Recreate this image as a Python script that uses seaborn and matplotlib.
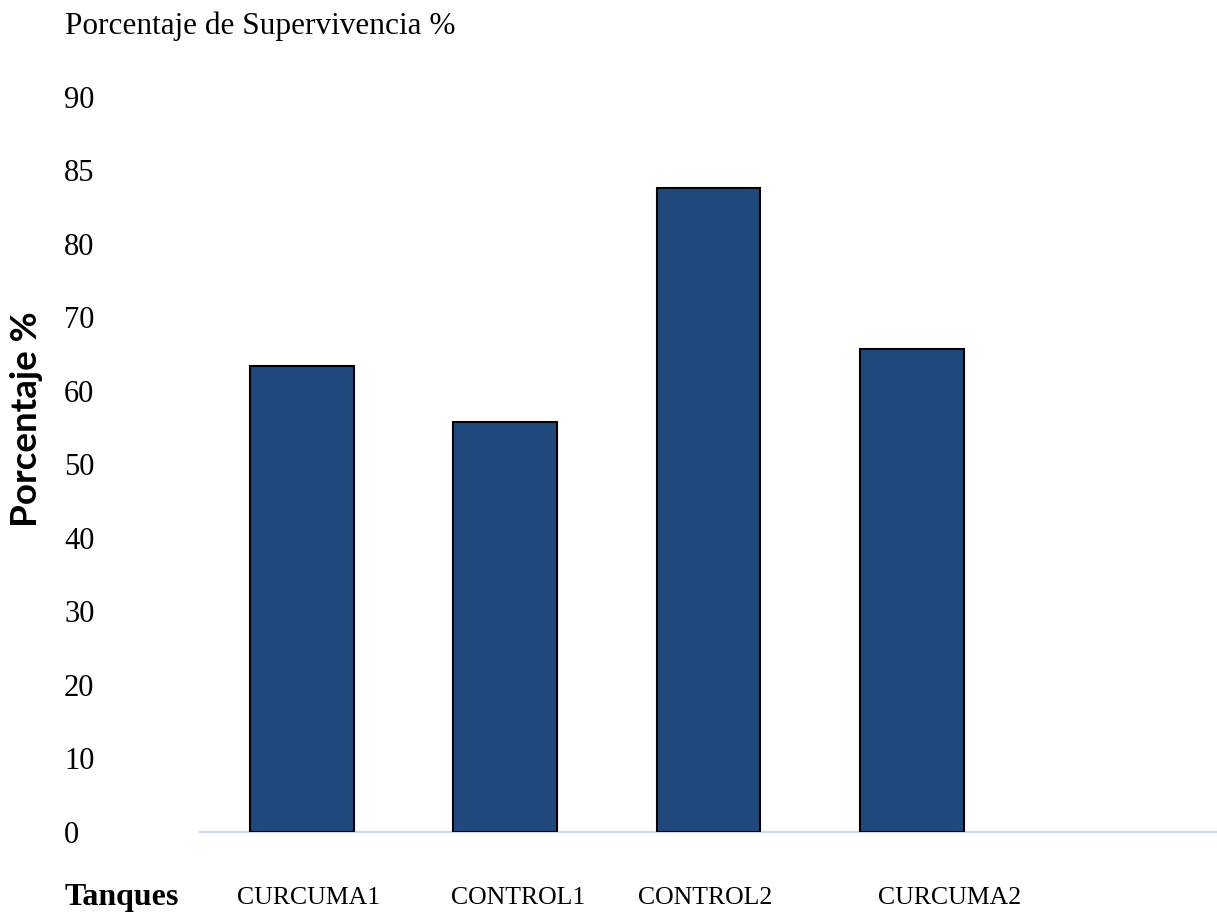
import matplotlib
matplotlib.use("Agg")
import matplotlib.pyplot as plt
import matplotlib.transforms as mtransforms
import seaborn as sns
import pandas as pd

# Survival percentage per tank
tanques = ["CURCUMA1", "CONTROL1", "CONTROL2", "CURCUMA2"]
supervivencia = [63.3, 55.8, 87.6, 65.7]

# Y-axis tick labels as printed on the original chart
ytick_pos = [0, 10, 20, 30, 40, 50, 60, 70, 80, 90, 100]
ytick_labels = ["0", "10", "20", "30", "40", "50", "60", "70", "80", "85", "90"]

# Horizontal nudges (px) of the category labels
label_shift_px = [7, 13, -3, 38]

sns.set_style("white")
plt.rcParams["font.family"] = ["Liberation Serif", "DejaVu Serif"]
plt.rcParams["text.color"] = "black"
plt.rcParams["xtick.color"] = "black"
plt.rcParams["ytick.color"] = "black"
plt.rcParams["xtick.labelcolor"] = "black"
plt.rcParams["ytick.labelcolor"] = "black"

df = pd.DataFrame({"Tanque": tanques, "Porcentaje": supervivencia})

W, H = 1217, 923
fig = plt.figure(figsize=(W / 100, H / 100), dpi=100)
ax = fig.add_axes([200 / W, (H - 832) / H, 1017 / W, (832 - 96.5) / H])

sns.barplot(data=df, x="Tanque", y="Porcentaje", order=tanques,
            color="#1F497D", saturation=1, width=0.51,
            edgecolor="black", linewidth=1.5, ax=ax, zorder=3)

ax.set_xlim(-0.5, 4.5)
ax.set_ylim(0, 100)
ax.set_xlabel("")
ax.set_ylabel("")

for side in ("top", "right", "left"):
    ax.spines[side].set_visible(False)
ax.spines["bottom"].set_color("#CCDAF0")
ax.spines["bottom"].set_linewidth(1.6)
ax.spines["bottom"].set_zorder(1)

# Y tick labels, left aligned far from the plot area
ax.set_yticks(ytick_pos)
ax.set_yticklabels(ytick_labels, fontsize=22, color="black")
ax.tick_params(axis="y", length=0, pad=(200 - 64) * 0.72)
for lab in ax.get_yticklabels():
    lab.set_horizontalalignment("left")

# Category labels
ax.set_xticks(range(len(tanques)))
ax.set_xticklabels(tanques, fontsize=18.5, color="black")
ax.tick_params(axis="x", length=0, pad=66 * 0.72)
for lab, dx in zip(ax.get_xticklabels(), label_shift_px):
    lab.set_verticalalignment("center")
    lab.set_transform(lab.get_transform() +
                      mtransforms.ScaledTranslation(dx / 100, 0, fig.dpi_scale_trans))

fig.text(65 / W, 1 - 26 / H, "Porcentaje de Supervivencia %",
         fontsize=22.5, ha="left", va="center", color="black")
fig.text(65 / W, 1 - 898 / H, "Tanques", fontsize=23, fontweight="bold",
         ha="left", va="center", color="black")
fig.text(27 / W, 1 - 419 / H, "Porcentaje %", fontsize=26.5, fontweight="bold",
         family=["Lato", "DejaVu Sans"], rotation=90, ha="center", va="center",
         color="black")

fig.savefig("out.png", dpi=100)
